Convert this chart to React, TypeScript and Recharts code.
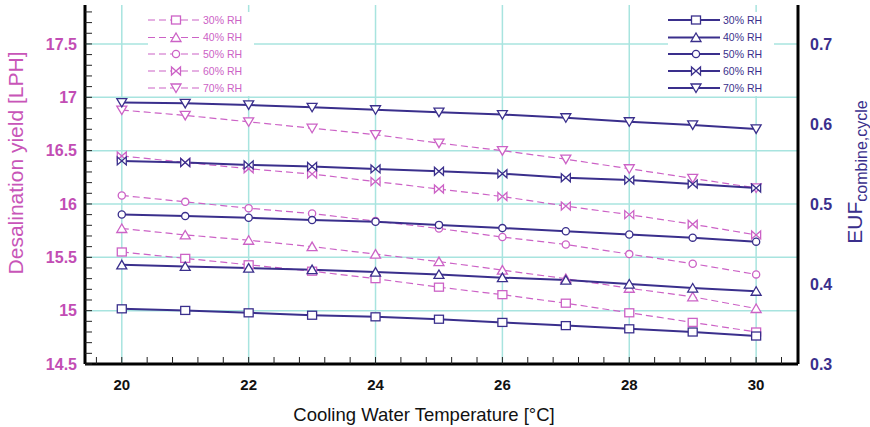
import React from 'react';
import { ComposedChart, Line, XAxis, YAxis, CartesianGrid } from 'recharts';

const temps = [20, 21, 22, 23, 24, 25, 26, 27, 28, 29, 30];
const rhLabels = ['30% RH', '40% RH', '50% RH', '60% RH', '70% RH'];
const yield30 = [15.55, 15.49, 15.43, 15.37, 15.30, 15.22, 15.15, 15.07, 14.98, 14.89, 14.80];
const yield40 = [15.77, 15.71, 15.66, 15.60, 15.53, 15.46, 15.38, 15.30, 15.21, 15.13, 15.02];
const yield50 = [16.08, 16.02, 15.96, 15.91, 15.84, 15.77, 15.69, 15.62, 15.53, 15.44, 15.34];
const yield60 = [16.45, 16.39, 16.33, 16.28, 16.21, 16.14, 16.07, 15.98, 15.90, 15.81, 15.71];
const yield70 = [16.88, 16.83, 16.77, 16.71, 16.65, 16.57, 16.50, 16.42, 16.33, 16.24, 16.15];
const euf30 = [0.369, 0.367, 0.364, 0.361, 0.359, 0.356, 0.352, 0.348, 0.344, 0.340, 0.335];
const euf40 = [0.424, 0.422, 0.420, 0.418, 0.415, 0.412, 0.408, 0.405, 0.400, 0.395, 0.391];
const euf50 = [0.487, 0.485, 0.483, 0.480, 0.478, 0.474, 0.470, 0.466, 0.462, 0.458, 0.453];
const euf60 = [0.554, 0.552, 0.549, 0.547, 0.544, 0.541, 0.538, 0.533, 0.530, 0.525, 0.520];
const euf70 = [0.627, 0.626, 0.624, 0.621, 0.618, 0.615, 0.612, 0.608, 0.603, 0.599, 0.594];

const xTicks = [19.6, 20, 20.4, 20.8, 21.2, 21.6, 22, 22.4, 22.8, 23.2, 23.6, 24, 24.4, 24.8, 25.2, 25.6, 26, 26.4, 26.8, 27.2, 27.6, 28, 28.4, 28.8, 29.2, 29.6, 30, 30.4];
const xGrid = [20, 22, 24, 26, 28, 30];
const leftTicks = [14.5, 14.6, 14.7, 14.8, 14.9, 15, 15.1, 15.2, 15.3, 15.4, 15.5, 15.6, 15.7, 15.8, 15.9, 16, 16.1, 16.2, 16.3, 16.4, 16.5, 16.6, 16.7, 16.8, 16.9, 17, 17.1, 17.2, 17.3, 17.4, 17.5, 17.6, 17.7, 17.8];
const leftGrid = [14.5, 15, 15.5, 16, 16.5, 17, 17.5];
const rightTicks = [0.3, 0.4, 0.5, 0.6, 0.7];

const NAVY = '#3a2f8c';
const MAG = '#cc62c6';
const MAG_TXT = '#c24db4';
const GRID = '#a8e4df';
const TICK = '#222';
const FONT = '"Liberation Sans", Arial, sans-serif';

const shapes = ['square', 'triUp', 'circle', 'bowtie', 'triDown'];

const data = temps.map((t, i) => ({
  t,
  y30: yield30[i], y40: yield40[i], y50: yield50[i], y60: yield60[i], y70: yield70[i],
  e30: euf30[i], e40: euf40[i], e50: euf50[i], e60: euf60[i], e70: euf70[i],
}));

function Marker({ shape, cx, cy, color }: { shape: string; cx: number; cy: number; color: string }) {
  const common = { fill: '#fff', stroke: color, strokeWidth: 1.3 };
  switch (shape) {
    case 'square':
      return <rect x={cx - 4.5} y={cy - 4} width={9} height={8} {...common} />;
    case 'triUp':
      return <path d={`M${cx - 5},${cy + 4}L${cx + 5},${cy + 4}L${cx},${cy - 4.5}Z`} {...common} />;
    case 'circle':
      return <circle cx={cx} cy={cy} r={3.6} {...common} />;
    case 'bowtie':
      return <path d={`M${cx - 4.5},${cy - 4}L${cx + 4.5},${cy + 4}L${cx + 4.5},${cy - 4}L${cx - 4.5},${cy + 4}Z`} {...common} />;
    default:
      return <path d={`M${cx - 5},${cy - 4}L${cx + 5},${cy - 4}L${cx},${cy + 4.5}Z`} {...common} />;
  }
}

const makeDot = (shape: string, color: string, name: string) => (p: any) => (
  <g key={`${name}-${p.index}`}>
    {p.cx != null && p.cy != null ? <Marker shape={shape} cx={p.cx} cy={p.cy} color={color} /> : null}
  </g>
);

const isEvenInt = (v: number) => Math.abs(v - Math.round(v)) < 1e-6 && Math.round(v) % 2 === 0;
const isHalf = (v: number) => Math.abs(v * 2 - Math.round(v * 2)) < 1e-6;

const yieldKeys = ['y30', 'y40', 'y50', 'y60', 'y70'];
const eufKeys = ['e30', 'e40', 'e50', 'e60', 'e70'];

function LegendBox({ left, dashed, color, textColor }: { left: number; dashed: boolean; color: string; textColor: string }) {
  const rows = [20, 37.5, 54, 71, 88];
  return (
    <svg style={{ position: 'absolute', left, top: 12, background: '#fff' }} width={106} height={84}>
      {rhLabels.map((lab, i) => {
        const y = rows[i] - 12;
        return (
          <g key={lab}>
            <line x1={0} x2={52} y1={y} y2={y} stroke={color} strokeWidth={dashed ? 1.2 : 2} strokeDasharray={dashed ? '7 4' : undefined} />
            <Marker shape={shapes[i]} cx={28} cy={y} color={color} />
            <text x={55} y={y + 3.5} fontSize={10.5} fontFamily={FONT} fill={textColor}>{lab}</text>
          </g>
        );
      })}
    </svg>
  );
}

export default function App() {
  return (
    <div style={{ position: 'absolute', left: 0, top: 0, width: 870, height: 427, background: '#fff' }}>
      <ComposedChart width={870} height={427} data={data} margin={{ top: 5, right: 0, bottom: 0, left: 0 }}>
        <CartesianGrid xAxisId="bottom" yAxisId="left" stroke={GRID} strokeWidth={1.5}
          verticalValues={xGrid} horizontalValues={leftGrid} />
        <XAxis xAxisId="bottom" dataKey="t" type="number" domain={[19.42, 30.66]} allowDataOverflow
          ticks={xTicks} interval={0} height={63} orientation="bottom"
          axisLine={{ stroke: '#000', strokeWidth: 3 }} tickLine={{ stroke: TICK, strokeWidth: 1 }} tickSize={-7} tickMargin={22}
          tickFormatter={(v: number) => (isEvenInt(v) ? String(Math.round(v)) : '')}
          tick={{ fill: '#111', fontSize: 15, fontWeight: 'bold', fontFamily: FONT }} />
        <XAxis xAxisId="top" dataKey="t" type="number" domain={[19.42, 30.66]} allowDataOverflow
          ticks={xTicks} interval={0} height={0} orientation="top"
          axisLine={{ stroke: '#000', strokeWidth: 3 }} tickLine={{ stroke: TICK, strokeWidth: 1 }} tickSize={-7}
          tickFormatter={() => ''} tick={{ fontSize: 1 }} />
        <YAxis yAxisId="left" orientation="left" width={85} type="number" domain={[14.5, 17.865]} allowDataOverflow
          ticks={leftTicks} interval={0}
          axisLine={{ stroke: '#000', strokeWidth: 3 }} tickLine={{ stroke: TICK, strokeWidth: 1 }} tickSize={-7} tickMargin={15}
          tickFormatter={(v: number) => (isHalf(v) ? String(Math.round(v * 10) / 10) : '')}
          tick={{ fill: MAG_TXT, fontSize: 16, fontWeight: 'bold', fontFamily: FONT }} />
        <YAxis yAxisId="right" orientation="right" width={72} type="number" domain={[0.3, 0.749]} allowDataOverflow
          ticks={rightTicks} interval={0}
          axisLine={{ stroke: '#000', strokeWidth: 3 }} tickLine={false} tickSize={0} tickMargin={12}
          tickFormatter={(v: number) => v.toFixed(1)}
          tick={{ fill: NAVY, fontSize: 16, fontWeight: 'bold', fontFamily: FONT, textAnchor: 'start' }} />
        {yieldKeys.map((k, i) => (
          <Line key={k} xAxisId="bottom" yAxisId="left" dataKey={k} type="linear" stroke={MAG} strokeWidth={1.2}
            strokeDasharray="7 4" isAnimationActive={false} dot={makeDot(shapes[i], MAG, k)} activeDot={false} legendType="none" />
        ))}
        {eufKeys.map((k, i) => (
          <Line key={k} xAxisId="bottom" yAxisId="right" dataKey={k} type="linear" stroke={NAVY} strokeWidth={2}
            isAnimationActive={false} dot={makeDot(shapes[i], NAVY, k)} activeDot={false} legendType="none" />
        ))}
      </ComposedChart>
      <LegendBox left={148} dashed color={MAG} textColor={MAG} />
      <LegendBox left={668} dashed={false} color={NAVY} textColor={NAVY} />
      <svg style={{ position: 'absolute', left: 0, top: 0, pointerEvents: 'none' }} width={870} height={427}>
        <text transform="rotate(-90 23 163)" x={23} y={163} textAnchor="middle" fontSize={21} fontFamily={FONT} fill="#c855b8">
          Desalination yield [LPH]
        </text>
        <text transform="rotate(-90 862 172)" x={862} y={172} textAnchor="middle" fontFamily={FONT} fill={NAVY}>
          <tspan fontSize={21}>EUF</tspan>
          <tspan fontSize={16} dy={5}>combine,cycle</tspan>
        </text>
        <text x={424} y={421} textAnchor="middle" fontSize={18.5} fontFamily={FONT} fill="#111">
          Cooling Water Temperature [°C]
        </text>
      </svg>
    </div>
  );
}
